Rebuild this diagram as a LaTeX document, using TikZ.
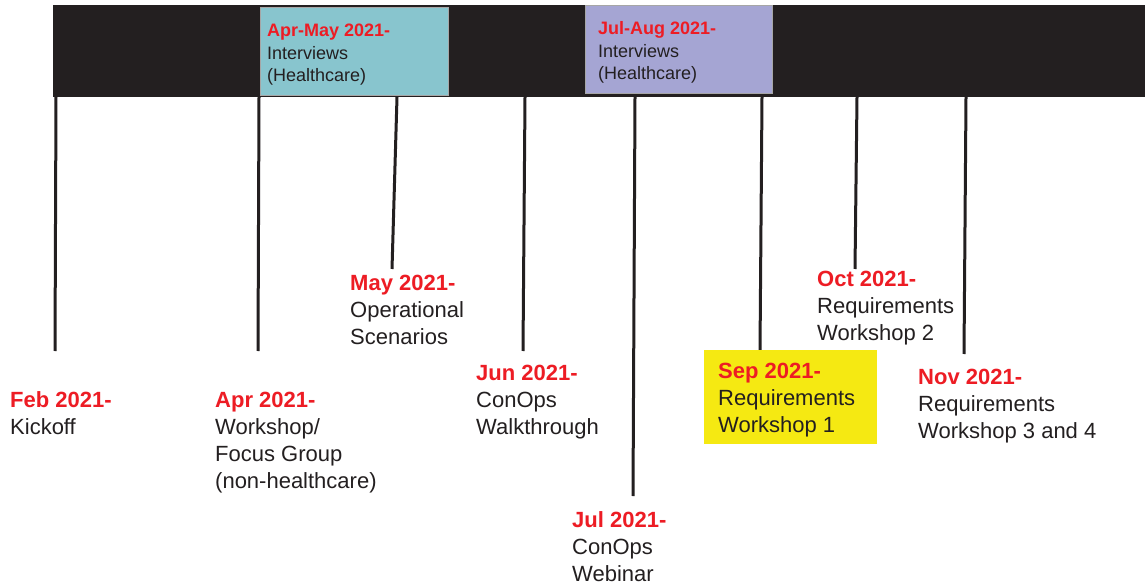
\documentclass[tikz,border=0pt]{standalone}
\usepackage{fontspec}
\setmainfont{Liberation Sans}
\definecolor{ink}{HTML}{231F20}
\definecolor{datered}{HTML}{ED1C24}
\definecolor{tealbox}{HTML}{88C5CE}
\definecolor{purplebox}{HTML}{A5A5D3}
\definecolor{yellowbox}{HTML}{F5E912}
\begin{document}
\begin{tikzpicture}[x=1pt,y=-1pt,
  tick/.style={draw=ink,line width=3pt},
  % multi-line labels: the base anchor sits on the last line's baseline
  evlabel/.style={anchor=base west,inner sep=0pt,align=left,text=ink,
    font=\fontsize{22}{27}\selectfont},
  boxlabel/.style={anchor=base west,inner sep=0pt,align=left,text=ink,
    font=\fontsize{18}{22.5}\selectfont}]
\useasboundingbox (0,0) rectangle (1145,585);
\fill[white] (0,0) rectangle (1145,585);

% timeline bar
\node[fill=ink,inner sep=0pt,minimum width=1092pt,minimum height=92pt,anchor=north west] (bar) at (53,5) {};

% interview periods on the bar
\node[fill=tealbox,draw=gray!70,line width=0.6pt,inner sep=0pt,minimum width=188pt,minimum height=88pt,anchor=north west] (aprmay) at (260,7) {};
\node[fill=purplebox,draw=gray!70,line width=0.6pt,inner sep=0pt,minimum width=187pt,minimum height=88pt,anchor=north west] (julaug) at (585,5) {};
\node[boxlabel] (aprmaytxt) at (267,82) {{\color{datered}\bfseries Apr-May 2021-}\\Interviews\\(Healthcare)};
\node[boxlabel] (julaugtxt) at (598,80) {{\color{datered}\bfseries Jul-Aug 2021-}\\Interviews\\(Healthcare)};

% tick positions on the bar and their lower ends
\coordinate (tFeb) at (56,97);   \coordinate (eFeb) at (55,351);
\coordinate (tApr) at (259,97);  \coordinate (eApr) at (258,351);
\coordinate (tMay) at (397,97);  \coordinate (eMay) at (392,269);
\coordinate (tJun) at (525,97);  \coordinate (eJun) at (523,351);
\coordinate (tJul) at (635,97);  \coordinate (eJul) at (633,496);
\coordinate (tSep) at (762,97);  \coordinate (eSep) at (760,351);
\coordinate (tOct) at (857,97);  \coordinate (eOct) at (855,269);
\coordinate (tNov) at (966,97);  \coordinate (eNov) at (964,354);
\foreach \m in {Feb,Apr,May,Jun,Jul,Sep,Oct,Nov}
  \draw[tick] (t\m) -- (e\m);

% highlighted workshop
\node[fill=yellowbox,inner sep=0pt,minimum width=173pt,minimum height=94pt,anchor=north west] (sepbox) at (704,350) {};

% event labels
\node[evlabel] (feb) at (10,434) {{\color{datered}\bfseries Feb 2021-}\\Kickoff};
\node[evlabel] (apr) at (215,488) {{\color{datered}\bfseries Apr 2021-}\\Workshop/\\Focus Group\\(non-healthcare)};
\node[evlabel] (may) at (350,344) {{\color{datered}\bfseries May 2021-}\\Operational\\Scenarios};
\node[evlabel] (jun) at (476,434) {{\color{datered}\bfseries Jun 2021-}\\ConOps\\Walkthrough};
\node[evlabel] (jul) at (572,581) {{\color{datered}\bfseries Jul 2021-}\\ConOps\\Webinar};
\node[evlabel] (sep) at (718,432) {{\color{datered}\bfseries Sep 2021-}\\Requirements\\Workshop 1};
\node[evlabel] (oct) at (817,340) {{\color{datered}\bfseries Oct 2021-}\\Requirements\\Workshop 2};
\node[evlabel] (nov) at (918,438) {{\color{datered}\bfseries Nov 2021-}\\Requirements\\Workshop 3 and 4};
\end{tikzpicture}
\end{document}
